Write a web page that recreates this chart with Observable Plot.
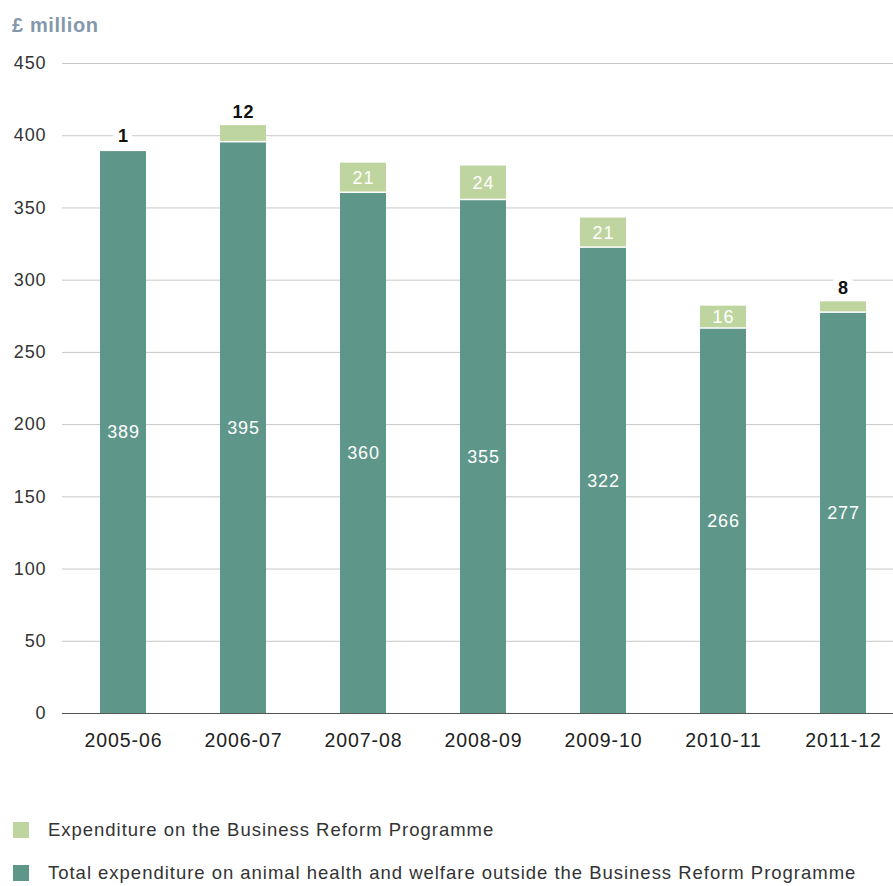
<!DOCTYPE html>
<html>
<head>
<meta charset="utf-8">
<script src="https://cdn.jsdelivr.net/npm/d3@7"></script>
<script src="https://cdn.jsdelivr.net/npm/@observablehq/plot@0.6"></script>
<style>
  body { margin: 0; background: #fff; font-family: "Liberation Sans", Arial, sans-serif; }
  #wrap { position: relative; width: 893px; height: 886px; }
  #ylabel { position: absolute; left: 12px; top: 14px; font-size: 20px; letter-spacing: 0.6px; font-weight: bold; color: #8498ad; }
  #chart { position: absolute; left: 0; top: 0; }
  #chart text { letter-spacing: 0.9px; }
  .leg { position: absolute; left: 13px; font-size: 18.5px; letter-spacing: 0.98px; color: #333; display: flex; align-items: center; }
  .leg span.sw { display: inline-block; width: 16px; height: 16px; margin-right: 19px; }
</style>
</head>
<body>
<div id="wrap">
  <div id="chart"></div>
  <div id="ylabel">£ million</div>
  <div class="leg" style="top:819px"><span class="sw" style="background:#bfd59f"></span>Expenditure on the Business Reform Programme</div>
  <div class="leg" style="top:862px"><span class="sw" style="background:#5e968a"></span>Total expenditure on animal health and welfare outside the Business Reform Programme</div>
</div>
<script>
const years = ["2005-06", "2006-07", "2007-08", "2008-09", "2009-10", "2010-11", "2011-12"];
const outside = [389, 395, 360, 355, 322, 266, 277];
const reform = [1, 12, 21, 24, 21, 16, 8];
const yTicks = [0, 50, 100, 150, 200, 250, 300, 350, 400, 450];

const teal = "#5e968a";
const green = "#bfd59f";

const rows = years.map((y, i) => ({year: y, outside: outside[i], reform: reform[i], total: outside[i] + reform[i]}));
const bigReform = rows.filter(d => d.reform >= 15);
const smallReform = rows.filter(d => d.reform < 15);

const chart = Plot.plot({
  width: 893,
  height: 760,
  marginTop: 63,
  marginBottom: 47,
  marginLeft: 62,
  marginRight: 0,
  style: {fontFamily: "'Liberation Sans', Arial, sans-serif", background: "transparent"},
  x: {domain: years, range: [62, 904], paddingInner: 0.6167, paddingOuter: 0.3167, round: false, label: null},
  y: {domain: [0, 450], label: null},
  marks: [
    Plot.ruleY(yTicks.filter(t => t > 0), {stroke: "#c8c8c8", strokeWidth: 1}),
    Plot.barY(rows, {x: "year", y1: 0, y2: "outside", fill: teal}),
    Plot.barY(rows, {x: "year", y1: "outside", y2: "total", fill: green, insetBottom: 1.5}),
    Plot.ruleY([0], {stroke: "#555", strokeWidth: 1}),
    Plot.text(rows, {x: "year", y: d => d.outside / 2, text: d => String(d.outside), fill: "white", fontSize: 18}),
    Plot.text(bigReform, {x: "year", y: d => d.outside + d.reform / 2, text: d => String(d.reform), fill: "white", fontSize: 18}),
    Plot.text(smallReform, {x: "year", y: "total", text: d => String(d.reform), fill: "#111", fontSize: 18, fontWeight: "bold", lineAnchor: "bottom", dy: -8, stroke: "white", strokeWidth: 13, paintOrder: "stroke"}),
    Plot.axisY(yTicks, {tickSize: 0, tickPadding: 16, fontSize: 18, color: "#333", label: null}),
    Plot.axisX({tickSize: 0, tickPadding: 20, fontSize: 19.5, color: "#222", label: null})
  ]
});
document.getElementById("chart").appendChild(chart);
</script>
</body>
</html>
